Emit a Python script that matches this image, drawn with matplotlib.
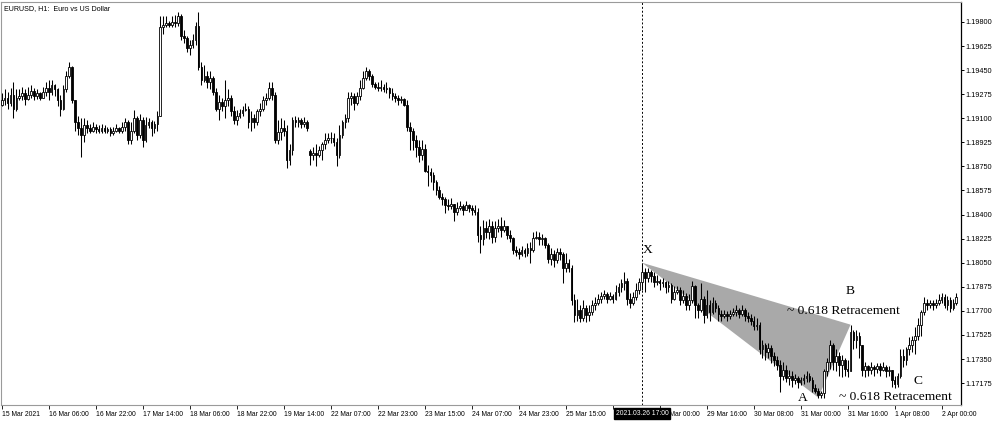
import numpy as np
import matplotlib
matplotlib.use("Agg")
import matplotlib.pyplot as plt
import matplotlib.transforms as mtransforms
from matplotlib.patches import Polygon

# EURUSD H1, 15 Mar 2021 14:00 -> 2 Apr 2021 05:00 (one value per hourly bar)
close = [
    1.1923, 1.1925, 1.1921, 1.1927, 1.1917, 1.1925, 1.1926, 1.1928, 1.1924, 1.1927,
    1.1930, 1.1926, 1.1928, 1.1925, 1.1929, 1.1932, 1.1929, 1.1934, 1.1931, 1.1923,
    1.1917, 1.1931, 1.1941, 1.1947, 1.1923, 1.1907, 1.1903, 1.1898, 1.1905, 1.1903,
    1.1901, 1.1904, 1.1902, 1.1901, 1.1903, 1.1901, 1.1902, 1.1899, 1.1901, 1.1903,
    1.1901, 1.1904, 1.1907, 1.1894, 1.1901, 1.1910, 1.1898, 1.1909, 1.1894, 1.1905,
    1.1907, 1.1903, 1.1906, 1.1912, 1.1976, 1.1978, 1.1979, 1.1978, 1.1980, 1.1979,
    1.1984, 1.1970, 1.1968, 1.1961, 1.1963, 1.1967, 1.1977, 1.1947, 1.1938, 1.1941,
    1.1936, 1.1939, 1.1929, 1.1917, 1.1922, 1.1919, 1.1923, 1.1925, 1.1915, 1.1909,
    1.1912, 1.1914, 1.1916, 1.1917, 1.1907, 1.1910, 1.1907, 1.1915, 1.1917, 1.1923,
    1.1925, 1.1932, 1.1927, 1.1894, 1.1900, 1.1903, 1.1901, 1.1880, 1.1887, 1.1909,
    1.1907, 1.1909, 1.1906, 1.1907, 1.1903, 1.1883, 1.1885, 1.1883, 1.1887, 1.1891,
    1.1894, 1.1896, 1.1896, 1.1893, 1.1883, 1.1898, 1.1907, 1.1910, 1.1925, 1.1926,
    1.1921, 1.1926, 1.1932, 1.1939, 1.1944, 1.1941, 1.1935, 1.1933, 1.1932, 1.1933,
    1.1931, 1.1932, 1.1928, 1.1926, 1.1925, 1.1923, 1.1924, 1.1920, 1.1904, 1.1901,
    1.1894, 1.1889, 1.1883, 1.1888, 1.1872, 1.1871, 1.1869, 1.1864, 1.1858, 1.1853,
    1.1851, 1.1847, 1.1846, 1.1848, 1.1842, 1.1845, 1.1846, 1.1843, 1.1847, 1.1845,
    1.1843, 1.1842, 1.1825, 1.1822, 1.1830, 1.1827, 1.1832, 1.1824, 1.1830, 1.1832,
    1.1829, 1.1832, 1.1825, 1.1823, 1.1814, 1.1813, 1.1811, 1.1814, 1.1812, 1.1816,
    1.1814, 1.1823, 1.1824, 1.1822, 1.1823, 1.1818, 1.1808, 1.1811, 1.1807, 1.1813,
    1.1811, 1.1801, 1.1805, 1.1801, 1.1778, 1.1767, 1.1771, 1.1765, 1.1772, 1.1767,
    1.1769, 1.1774, 1.1776, 1.1779, 1.1781, 1.1782, 1.1779, 1.1781, 1.1779, 1.1784,
    1.1787, 1.1790, 1.1792, 1.1779, 1.1776, 1.1780, 1.1785, 1.1791, 1.1798, 1.1794,
    1.1798, 1.1795, 1.1791, 1.1792, 1.1790, 1.1791, 1.1787, 1.1789, 1.1779, 1.1784,
    1.1785, 1.1778, 1.1781, 1.1774, 1.1778, 1.1788, 1.1774, 1.1771, 1.1779, 1.1767,
    1.1774, 1.1769, 1.1776, 1.1772, 1.1768, 1.1766, 1.1768, 1.1766, 1.1768, 1.1769,
    1.1771, 1.1768, 1.1771, 1.1766, 1.1765, 1.1763, 1.1759, 1.1760, 1.1742, 1.1745,
    1.1740, 1.1743, 1.1737, 1.1734, 1.1731, 1.1723, 1.1727, 1.1721, 1.1723, 1.1720,
    1.1721, 1.1718, 1.1720, 1.1721, 1.1723, 1.1720, 1.1714, 1.1712, 1.1709, 1.1710,
    1.1726, 1.1733, 1.1745, 1.1733, 1.1737, 1.1731, 1.1734, 1.1728, 1.1726, 1.1755,
    1.1749, 1.1752, 1.1745, 1.1727, 1.1730, 1.1727, 1.1729, 1.1728, 1.1730, 1.1727,
    1.1729, 1.1726, 1.1727, 1.1720, 1.1717, 1.1723, 1.1737, 1.1734, 1.1742, 1.1745,
    1.1749, 1.1752, 1.1760, 1.1769, 1.1776, 1.1774, 1.1776, 1.1774, 1.1776, 1.1778,
    1.1780, 1.1774, 1.1778, 1.1772, 1.1776, 1.1780,
]

high = [
    1.1928, 1.1931, 1.1929, 1.1932, 1.1936, 1.1931, 1.1931, 1.1933, 1.1931, 1.1933,
    1.1934, 1.1932, 1.1931, 1.1929, 1.1933, 1.1936, 1.1938, 1.1938, 1.1935, 1.1932,
    1.1927, 1.1934, 1.1944, 1.1951, 1.1948, 1.1923, 1.1912, 1.1910, 1.1910, 1.1909,
    1.1906, 1.1907, 1.1906, 1.1905, 1.1906, 1.1905, 1.1904, 1.1904, 1.1904, 1.1906,
    1.1904, 1.1907, 1.1910, 1.1909, 1.1907, 1.1916, 1.1912, 1.1913, 1.1911, 1.1911,
    1.1910, 1.1909, 1.1908, 1.1915, 1.1984, 1.1984, 1.1984, 1.1981, 1.1984, 1.1985,
    1.1987, 1.1986, 1.1974, 1.1970, 1.1967, 1.1971, 1.1980, 1.1987, 1.1951, 1.1949,
    1.1944, 1.1944, 1.1941, 1.1932, 1.1927, 1.1925, 1.1938, 1.1931, 1.1927, 1.1919,
    1.1916, 1.1917, 1.1919, 1.1921, 1.1919, 1.1915, 1.1913, 1.1917, 1.1921, 1.1926,
    1.1928, 1.1936, 1.1936, 1.1929, 1.1909, 1.1910, 1.1909, 1.1905, 1.1891, 1.1911,
    1.1912, 1.1911, 1.1910, 1.1911, 1.1909, 1.1888, 1.1889, 1.1891, 1.1890, 1.1893,
    1.1899, 1.1899, 1.1900, 1.1899, 1.1896, 1.1905, 1.1909, 1.1913, 1.1929, 1.1929,
    1.1928, 1.1929, 1.1938, 1.1944, 1.1947, 1.1946, 1.1942, 1.1936, 1.1936, 1.1938,
    1.1935, 1.1936, 1.1933, 1.1932, 1.1928, 1.1927, 1.1926, 1.1925, 1.1923, 1.1907,
    1.1903, 1.1898, 1.1894, 1.1894, 1.1891, 1.1876, 1.1874, 1.1871, 1.1865, 1.1861,
    1.1856, 1.1853, 1.1851, 1.1852, 1.1848, 1.1849, 1.1850, 1.1848, 1.1850, 1.1848,
    1.1847, 1.1847, 1.1845, 1.1832, 1.1836, 1.1835, 1.1837, 1.1835, 1.1835, 1.1837,
    1.1838, 1.1836, 1.1832, 1.1829, 1.1824, 1.1817, 1.1816, 1.1817, 1.1816, 1.1819,
    1.1820, 1.1827, 1.1828, 1.1827, 1.1826, 1.1824, 1.1819, 1.1816, 1.1814, 1.1816,
    1.1816, 1.1813, 1.1812, 1.1808, 1.1803, 1.1782, 1.1779, 1.1774, 1.1778, 1.1774,
    1.1774, 1.1778, 1.1780, 1.1782, 1.1784, 1.1785, 1.1784, 1.1784, 1.1782, 1.1789,
    1.1790, 1.1793, 1.1798, 1.1794, 1.1783, 1.1784, 1.1790, 1.1794, 1.1805, 1.1801,
    1.1801, 1.1800, 1.1798, 1.1796, 1.1793, 1.1794, 1.1792, 1.1792, 1.1790, 1.1788,
    1.1788, 1.1787, 1.1785, 1.1783, 1.1782, 1.1792, 1.1789, 1.1776, 1.1790, 1.1781,
    1.1785, 1.1778, 1.1780, 1.1778, 1.1774, 1.1771, 1.1771, 1.1770, 1.1771, 1.1772,
    1.1774, 1.1772, 1.1774, 1.1772, 1.1769, 1.1768, 1.1766, 1.1765, 1.1762, 1.1749,
    1.1747, 1.1747, 1.1745, 1.1740, 1.1737, 1.1734, 1.1733, 1.1731, 1.1727, 1.1726,
    1.1724, 1.1723, 1.1722, 1.1724, 1.1726, 1.1725, 1.1722, 1.1717, 1.1714, 1.1712,
    1.1728, 1.1736, 1.1749, 1.1747, 1.1742, 1.1740, 1.1738, 1.1736, 1.1734, 1.1760,
    1.1756, 1.1756, 1.1755, 1.1745, 1.1733, 1.1731, 1.1733, 1.1731, 1.1732, 1.1732,
    1.1733, 1.1731, 1.1730, 1.1727, 1.1723, 1.1725, 1.1742, 1.1742, 1.1744, 1.1751,
    1.1752, 1.1758, 1.1765, 1.1771, 1.1780, 1.1779, 1.1778, 1.1778, 1.1779, 1.1782,
    1.1783, 1.1782, 1.1781, 1.1780, 1.1779, 1.1783,
]

low = [
    1.1919, 1.1920, 1.1917, 1.1919, 1.1910, 1.1915, 1.1923, 1.1923, 1.1920, 1.1923,
    1.1925, 1.1923, 1.1924, 1.1923, 1.1925, 1.1926, 1.1923, 1.1927, 1.1926, 1.1919,
    1.1912, 1.1916, 1.1929, 1.1939, 1.1921, 1.1901, 1.1898, 1.1882, 1.1893, 1.1899,
    1.1899, 1.1900, 1.1899, 1.1899, 1.1899, 1.1899, 1.1899, 1.1897, 1.1898, 1.1900,
    1.1899, 1.1899, 1.1901, 1.1891, 1.1891, 1.1899, 1.1894, 1.1896, 1.1889, 1.1893,
    1.1903, 1.1897, 1.1899, 1.1901, 1.1912, 1.1971, 1.1976, 1.1976, 1.1976, 1.1976,
    1.1977, 1.1967, 1.1965, 1.1958, 1.1956, 1.1961, 1.1963, 1.1945, 1.1934, 1.1936,
    1.1932, 1.1931, 1.1927, 1.1915, 1.1909, 1.1915, 1.1910, 1.1919, 1.1912, 1.1906,
    1.1905, 1.1910, 1.1912, 1.1915, 1.1903, 1.1901, 1.1903, 1.1905, 1.1912, 1.1915,
    1.1920, 1.1923, 1.1923, 1.1892, 1.1891, 1.1894, 1.1897, 1.1874, 1.1876, 1.1883,
    1.1904, 1.1904, 1.1903, 1.1904, 1.1901, 1.1876, 1.1880, 1.1875, 1.1882, 1.1880,
    1.1888, 1.1892, 1.1892, 1.1890, 1.1875, 1.1881, 1.1896, 1.1903, 1.1907, 1.1920,
    1.1916, 1.1920, 1.1923, 1.1931, 1.1938, 1.1938, 1.1933, 1.1931, 1.1930, 1.1930,
    1.1929, 1.1928, 1.1925, 1.1923, 1.1922, 1.1920, 1.1921, 1.1919, 1.1901, 1.1887,
    1.1887, 1.1882, 1.1878, 1.1880, 1.1871, 1.1861, 1.1864, 1.1858, 1.1854, 1.1851,
    1.1847, 1.1841, 1.1843, 1.1844, 1.1835, 1.1840, 1.1843, 1.1840, 1.1843, 1.1842,
    1.1840, 1.1840, 1.1820, 1.1812, 1.1818, 1.1823, 1.1822, 1.1819, 1.1820, 1.1827,
    1.1824, 1.1827, 1.1822, 1.1820, 1.1811, 1.1810, 1.1808, 1.1810, 1.1809, 1.1810,
    1.1805, 1.1813, 1.1822, 1.1818, 1.1818, 1.1816, 1.1805, 1.1803, 1.1802, 1.1805,
    1.1807, 1.1790, 1.1798, 1.1798, 1.1774, 1.1762, 1.1763, 1.1762, 1.1763, 1.1762,
    1.1763, 1.1767, 1.1771, 1.1774, 1.1776, 1.1779, 1.1776, 1.1778, 1.1776, 1.1778,
    1.1781, 1.1784, 1.1785, 1.1774, 1.1772, 1.1774, 1.1778, 1.1782, 1.1785, 1.1784,
    1.1791, 1.1791, 1.1787, 1.1789, 1.1785, 1.1787, 1.1783, 1.1784, 1.1776, 1.1778,
    1.1782, 1.1774, 1.1776, 1.1771, 1.1771, 1.1776, 1.1765, 1.1765, 1.1769, 1.1761,
    1.1765, 1.1763, 1.1768, 1.1769, 1.1763, 1.1763, 1.1765, 1.1763, 1.1764, 1.1766,
    1.1766, 1.1765, 1.1766, 1.1763, 1.1762, 1.1760, 1.1756, 1.1756, 1.1739, 1.1736,
    1.1734, 1.1736, 1.1732, 1.1730, 1.1727, 1.1711, 1.1720, 1.1718, 1.1716, 1.1715,
    1.1717, 1.1714, 1.1716, 1.1717, 1.1718, 1.1718, 1.1711, 1.1710, 1.1707, 1.1707,
    1.1707, 1.1723, 1.1728, 1.1727, 1.1726, 1.1723, 1.1722, 1.1723, 1.1722, 1.1726,
    1.1742, 1.1743, 1.1736, 1.1723, 1.1722, 1.1723, 1.1724, 1.1723, 1.1725, 1.1723,
    1.1726, 1.1722, 1.1723, 1.1715, 1.1714, 1.1715, 1.1721, 1.1729, 1.1731, 1.1738,
    1.1740, 1.1739, 1.1749, 1.1752, 1.1767, 1.1771, 1.1772, 1.1771, 1.1772, 1.1774,
    1.1776, 1.1772, 1.1771, 1.1769, 1.1771, 1.1774,
]

first_open = 1.1920
monday_bar, monday_open = 105, 1.1886     # 22 Mar 00:00 opens with a gap

# bottom scale labels, one every 16 bars
x_labels = [
    "15 Mar 2021", "16 Mar 06:00", "16 Mar 22:00", "17 Mar 14:00", "18 Mar 06:00",
    "18 Mar 22:00", "19 Mar 14:00", "22 Mar 07:00", "22 Mar 23:00", "23 Mar 15:00",
    "24 Mar 07:00", "24 Mar 23:00", "25 Mar 15:00", "26 Mar 07:00", "29 Mar 00:00",
    "29 Mar 16:00", "30 Mar 08:00", "31 Mar 00:00", "31 Mar 16:00", "1 Apr 08:00",
    "2 Apr 00:00",
]
y_ticks = [1.17175, 1.17350, 1.17525, 1.17700, 1.17875, 1.18050, 1.18225, 1.18400,
           1.18575, 1.18750, 1.18925, 1.19100, 1.19275, 1.19450, 1.19625, 1.19800]

# XABC pattern: bar index of each pivot
bar_X, bar_A, bar_B, bar_C = 218, 278, 289, 304
cursor_bar, cursor_label = 218, "2021.03.26 17:00"

close = np.array(close)
high = np.array(high)
low = np.array(low)
idx = np.arange(len(close))
opens = np.r_[first_open, close[:-1]]
opens[monday_bar] = monday_open

fig = plt.figure(figsize=(10, 4.22), dpi=100)
ax = fig.add_axes([0.001, 17 / 422, 0.96, 403 / 422])
ax.set_xlim(-0.24, 326.6)
ax.set_ylim(1.17016, 1.19945)

# candles: wick + body (white = up, black = down)
up = close >= opens
bottom = np.minimum(opens, close)
height = np.abs(close - opens)
ax.vlines(idx, low, high, color="black", lw=0.75, zorder=3)
ax.bar(idx[up], height[up], bottom=bottom[up], width=0.58, color="white",
       edgecolor="black", linewidth=0.6, zorder=4)
ax.bar(idx[~up], height[~up], bottom=bottom[~up], width=0.58, color="black",
       edgecolor="black", linewidth=0.6, zorder=4)

# shaded X-A-B triangle
pX = (bar_X, high[bar_X])
pA = (bar_A, low[bar_A])
pB = (bar_B, high[bar_B])
pC = (bar_C, low[bar_C])
ax.add_patch(Polygon([pX, pB, pA], closed=True, facecolor="#a9a9a9",
                     edgecolor="none", zorder=1))

# crosshair line at X
ax.axvline(cursor_bar, color="black", lw=0.7, ls=(0, (2, 2)), zorder=2)

serif = dict(family="Liberation Serif", fontsize=9.7, color="black",
             ha="center", va="center", textcoords="offset pixels", zorder=6)
ax.annotate("X", xy=pX, xytext=(6, 13), **serif)
ax.annotate("B", xy=pB, xytext=(0, 34), **serif)
ax.annotate("~ 0.618 Retracement", xy=pB, xytext=(-7, 14), **serif)
ax.annotate("A", xy=pA, xytext=(-16, 0), **serif)
ax.annotate("C", xy=pC, xytext=(23, 7), **serif)
ax.annotate("~ 0.618 Retracement", xy=pC, xytext=(1, -9), **serif)

# frame like the terminal window
for side in ["left", "top", "bottom"]:
    ax.spines[side].set_color("#9a9a9a")
    ax.spines[side].set_linewidth(0.8)
ax.spines["right"].set_color("black")
ax.spines["right"].set_linewidth(0.9)

ax.yaxis.tick_right()
ax.set_yticks(y_ticks)
ax.set_yticklabels([f"{v:.5f}" for v in y_ticks])
ax.tick_params(axis="y", direction="out", length=2.5, width=0.7, pad=1,
               labelsize=5.3, colors="black")
ax.set_xticks(np.arange(len(x_labels)) * 16)
ax.set_xticklabels(x_labels, ha="left")
ax.tick_params(axis="x", direction="out", length=3, width=0.6, pad=1.5,
               labelsize=4.9, colors="black")
for lab in ax.get_xticklabels() + ax.get_yticklabels():
    lab.set_family("Liberation Sans")

# highlighted time of the cursor on the bottom scale, it hides the label under it
trans = mtransforms.blended_transform_factory(ax.transData, ax.transAxes)
ax.text(cursor_bar, -0.021, cursor_label, transform=trans, ha="center", va="center",
        fontsize=4.9, family="Liberation Sans", color="white", clip_on=False, zorder=10,
        bbox=dict(boxstyle="square,pad=0.25", facecolor="black", edgecolor="black"))
ax.get_xticklabels()[cursor_bar // 16].set_visible(False)

ax.text(0.003, 0.993, "EURUSD, H1:  Euro vs US Dollar", transform=ax.transAxes,
        ha="left", va="top", fontsize=5.1, family="Liberation Sans", zorder=6)

fig.savefig("out.png", dpi=100)
